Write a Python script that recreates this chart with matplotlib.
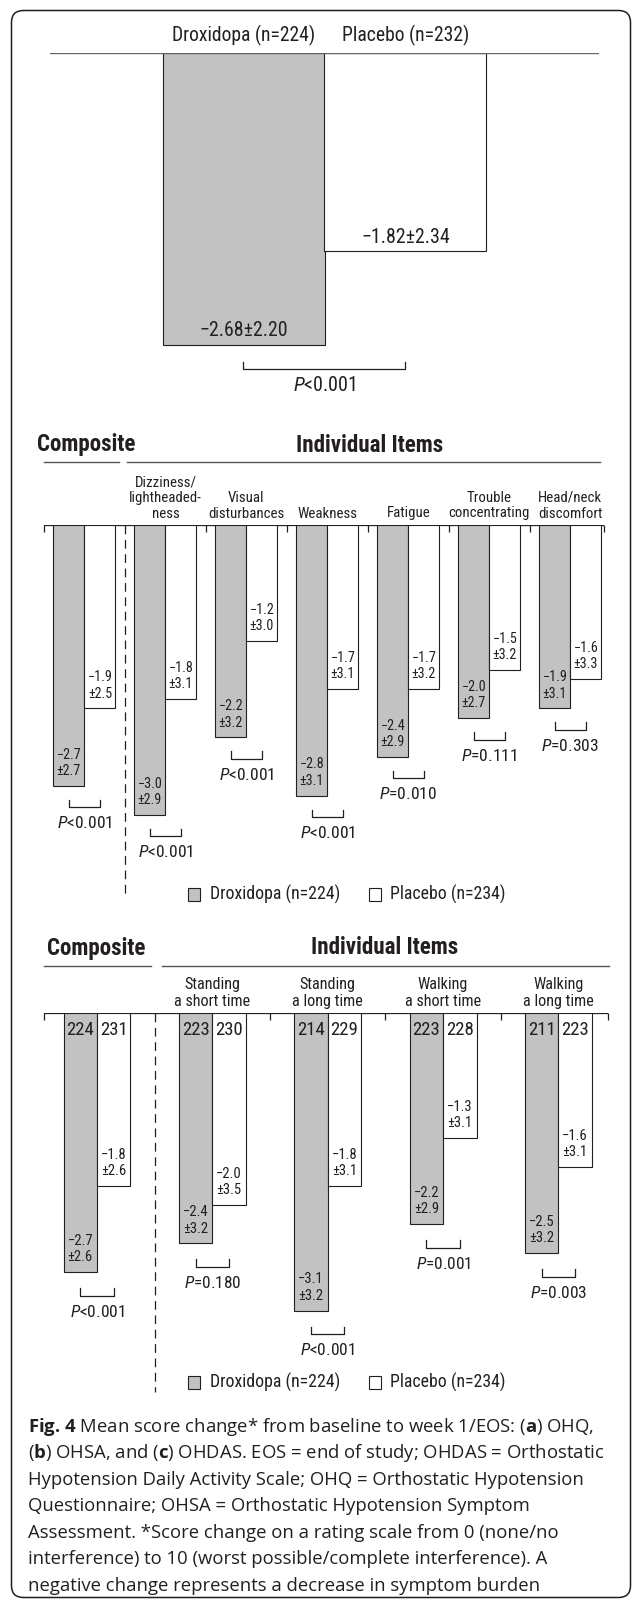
import matplotlib
matplotlib.use("Agg")
import matplotlib.pyplot as plt
from matplotlib.patches import FancyBboxPatch, Rectangle

# ---- data ----
# (a) OHQ composite
ohq_groups = ['Droxidopa (n=224)', 'Placebo (n=232)']
ohq_mean = [-2.68, -1.82]
ohq_sd = [2.20, 2.34]
ohq_p = 'P<0.001'

# (b) OHSA
ohsa_items = ['', 'Dizziness/\nlightheaded-\nness', 'Visual\ndisturbances', 'Weakness',
              'Fatigue', 'Trouble\nconcentrating', 'Head/neck\ndiscomfort']
ohsa_drox = [-2.7, -3.0, -2.2, -2.8, -2.4, -2.0, -1.9]
ohsa_drox_sd = [2.7, 2.9, 3.2, 3.1, 2.9, 2.7, 3.1]
ohsa_plac = [-1.9, -1.8, -1.2, -1.7, -1.7, -1.5, -1.6]
ohsa_plac_sd = [2.5, 3.1, 3.0, 3.1, 3.2, 3.2, 3.3]
ohsa_p = ['P<0.001', 'P<0.001', 'P<0.001', 'P<0.001', 'P=0.010', 'P=0.111', 'P=0.303']

# (c) OHDAS
ohdas_items = ['', 'Standing\na short time', 'Standing\na long time',
               'Walking\na short time', 'Walking\na long time']
ohdas_drox = [-2.7, -2.4, -3.1, -2.2, -2.5]
ohdas_drox_sd = [2.6, 3.2, 3.2, 2.9, 3.2]
ohdas_plac = [-1.8, -2.0, -1.8, -1.3, -1.6]
ohdas_plac_sd = [2.6, 3.5, 3.1, 3.1, 3.1]
ohdas_n_drox = [224, 223, 214, 223, 211]
ohdas_n_plac = [231, 230, 229, 228, 223]
ohdas_p = ['P<0.001', 'P=0.180', 'P<0.001', 'P=0.001', 'P=0.003']

legend_labels = ['Droxidopa (n=224)', 'Placebo (n=234)']

caption = [
    r"$\mathbf{Fig.\,4}$ Mean score change* from baseline to week 1/EOS: ($\mathbf{a}$) OHQ,",
    r"($\mathbf{b}$) OHSA, and ($\mathbf{c}$) OHDAS. EOS = end of study; OHDAS = Orthostatic",
    "Hypotension Daily Activity Scale; OHQ = Orthostatic Hypotension",
    "Questionnaire; OHSA = Orthostatic Hypotension Symptom",
    "Assessment. *Score change on a rating scale from 0 (none/no",
    "interference) to 10 (worst possible/complete interference). A",
    "negative change represents a decrease in symptom burden",
]

# ---- style ----
W, H, DPI = 633, 1600, 100
INK = '#231f20'
GREY = '#c2c2c2'
NARROW = ['Roboto Condensed', 'Liberation Sans', 'DejaVu Sans']
plt.rcParams['mathtext.fontset'] = 'custom'
plt.rcParams['mathtext.rm'] = 'Open Sans'
plt.rcParams['mathtext.bf'] = 'Open Sans:bold'
plt.rcParams['mathtext.it'] = 'Roboto Condensed:italic'


def pt(px):
    return px * 72 / DPI


def ptext(s):
    return r'$\mathit{P}$' + s[1:]


fig = plt.figure(figsize=(W / DPI, H / DPI), dpi=DPI)

# decoration layer in pixel coordinates
deco = fig.add_axes([0, 0, 1, 1])
deco.set_xlim(0, W)
deco.set_ylim(H, 0)
deco.set_axis_off()
deco.add_patch(FancyBboxPatch((11.5, 10.5), 619, 1587, boxstyle='round,pad=0,rounding_size=12',
                              fill=False, ec=INK, lw=1.1))


def panel(left, right, top, bottom, c0, step, base, ppu):
    ax = fig.add_axes([left / W, 1 - bottom / H, (right - left) / W, (bottom - top) / H])
    ax.set_xlim((left - c0) / step, (right - c0) / step)
    ax.set_ylim(-(bottom - base) / ppu, (base - top) / ppu)
    ax.set_axis_off()
    return ax


def bracket(ax, x0, x1, low, label, ppu, gap, size):
    top = low - gap / ppu
    bot = top - 7.5 / ppu
    ax.plot([x0, x0, x1, x1], [top, bot, bot, top], color=INK, lw=0.9, clip_on=False)
    ax.annotate(ptext(label), ((x0 + x1) / 2, bot), xytext=(0, -pt(16)), textcoords='offset points',
                ha='center', va='center', fontsize=size, family=NARROW, color=INK)


def header(cx, y, text):
    deco.text(cx, y, text, ha='center', va='center', fontsize=16.6, fontweight='bold',
              family=NARROW, color=INK)


def legend(y):
    for x, fc, lab in [(187.5, GREY, legend_labels[0]), (368.5, 'white', legend_labels[1])]:
        deco.add_patch(Rectangle((x, y - 6.3), 12, 12.6, fc=fc, ec=INK, lw=0.8))
        deco.text(x + 22, y, lab, ha='left', va='center', fontsize=12.8, family=NARROW, color=INK)


# ---- (a) OHQ ----
ppu_a = 109
ax = panel(50, 599, 52.7, 400, 243.5, 162, 52.7, ppu_a)
ax.axhline(0, color='#666666', lw=1.0)
xa = list(range(len(ohq_mean)))
ax.bar(xa, ohq_mean, width=1.0, color=[GREY, 'white'], edgecolor=INK, lw=0.8)
for x, m, s, g in zip(xa, ohq_mean, ohq_sd, ohq_groups):
    ax.annotate(f'\u2212{abs(m):.2f}\u00b1{s:.2f}', (x, m), xytext=(0, pt(14)), textcoords='offset points',
                ha='center', va='center', fontsize=14.3, family=NARROW, color=INK)
    ax.annotate(g, (x, 0), xytext=(0, pt(17.7)), textcoords='offset points',
                ha='center', va='center', fontsize=14.1, family=NARROW, color=INK)
bracket(ax, xa[0], xa[1], min(ohq_mean), ohq_p, ppu_a, 17, 14.4)


# ---- grouped panels (b) and (c) ----
def grouped(ax, items, drox, dsd, plac, psd, pvals, ppu, w, vsize, item_size, item_ls, sep_bottom,
            gap, psize, n_d=None, n_p=None):
    idx = list(range(len(items)))
    xd = [i - w / 2 for i in idx]
    xp = [i + w / 2 for i in idx]
    ax.axhline(0, color=INK, lw=0.9)
    ax.bar(xd, drox, width=w, color=GREY, edgecolor=INK, lw=0.8, zorder=2)
    ax.bar(xp, plac, width=w, color='white', edgecolor=INK, lw=0.8, zorder=2)
    x0, x1 = ax.get_xlim()
    ticks = [x0] + [i + 0.5 for i in idx[1:-1]] + [x1]
    ax.vlines(ticks, 0, -7 / ppu, color=INK, lw=0.9, clip_on=False)
    ax.plot([0.5, 0.5], [0, -sep_bottom / ppu], color=INK, lw=0.9, dashes=(7, 4.5))
    for i in idx:
        for x, m, s in [(xd[i], drox[i], dsd[i]), (xp[i], plac[i], psd[i])]:
            ax.annotate(f'\u2212{abs(m):.1f}\n\u00b1{s:.1f}', (x, m), xytext=(0, pt(23)),
                        textcoords='offset points', ha='center', va='center', fontsize=vsize,
                        family=NARROW, color=INK, linespacing=1.2, zorder=3)
        if items[i]:
            ax.annotate(items[i], (i, 0), xytext=(0, pt(4)), textcoords='offset points',
                        ha='center', va='bottom', fontsize=item_size, family=NARROW, color=INK,
                        linespacing=item_ls)
        if n_d is not None:
            for x, n in [(xd[i], n_d[i]), (xp[i], n_p[i])]:
                ax.annotate(str(n), (x, 0), xytext=(0, -pt(16.7)), textcoords='offset points',
                            ha='center', va='center', fontsize=13.5, family=NARROW, color=INK)
        bracket(ax, xd[i], xp[i], min(drox[i], plac[i]), pvals[i], ppu, gap, psize)


# (b) OHSA
header(86, 445, 'Composite')
header(370, 445, 'Individual Items')
deco.plot([44, 119], [462, 462], color='#555555', lw=1.0)
deco.plot([127, 600], [462, 462], color='#555555', lw=1.0)
ppu_b = 96.8
ax = panel(44, 604.4, 524.5, 905, 84.4, 81, 524.5, ppu_b)
grouped(ax, ohsa_items, ohsa_drox, ohsa_drox_sd, ohsa_plac, ohsa_plac_sd, ohsa_p, ppu_b, 0.383,
        10.2, 10.7, 1.15, 898 - 524.5, 14, 12.6)
legend(894.5)

# (c) OHDAS
header(96, 948, 'Composite')
header(384.5, 948, 'Individual Items')
deco.plot([43.6, 151.4], [966, 966], color='#555555', lw=1.0)
deco.plot([161.5, 608.8], [966, 966], color='#555555', lw=1.0)
ppu_c = 95.9
ax = panel(43.6, 607.6, 1013.3, 1395, 97, 115.35, 1013.3, ppu_c)
grouped(ax, ohdas_items, ohdas_drox, ohdas_drox_sd, ohdas_plac, ohdas_plac_sd, ohdas_p, ppu_c, 0.29,
        10.5, 11.6, 1.18, 1392 - 1013.3, 16, 12.4, ohdas_n_drox, ohdas_n_plac)
legend(1382.5)

# caption
for k, line in enumerate(caption):
    deco.text(28, 1431.5 + 26.6 * k, line, ha='left', va='baseline', fontsize=13.3,
              family=['Open Sans', 'DejaVu Sans'], color=INK)

fig.savefig('out.png', dpi=DPI)
